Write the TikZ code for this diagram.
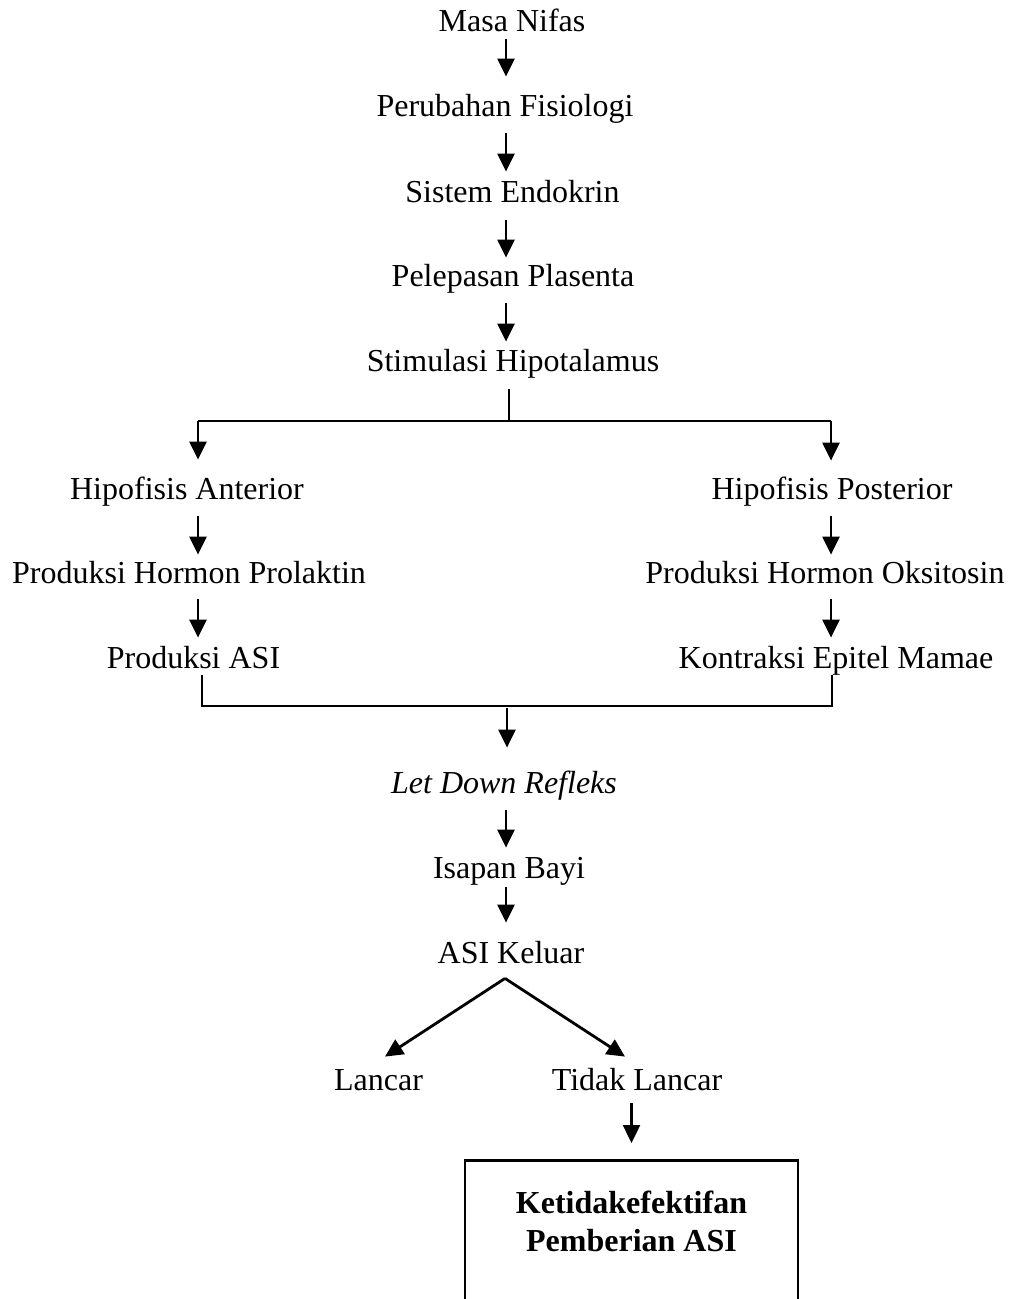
\documentclass[tikz,border=0pt]{standalone}
\usepackage{fontspec}
\setmainfont{Liberation Serif}
\usepackage{tikz}
\usetikzlibrary{positioning,%
  arrows.meta,%
  calc
}

\tikzset{
  teks/.style={anchor=base, inner xsep=0pt, inner ysep=0pt,
    text height=11pt, text depth=3.5pt, font=\fontsize{16}{19}\selectfont},
  panah/.style={-{Triangle[length=9pt,width=8.5pt]}, line width=1.2pt},
  garis/.style={line width=0.8pt},
  kotak/.style={draw, line width=1.3pt, anchor=north, minimum width=166.5pt,
    inner xsep=0pt, inner ysep=15.5pt, text height=11pt, text depth=60pt,
    font=\fontsize{16}{19}\selectfont\bfseries}
}

\begin{document}
\begin{tikzpicture}[x=0.5pt,y=-0.5pt]
            \useasboundingbox (0,0) rectangle (1013,1299);
            \clip (0,0) rectangle (1013,1299);

            % alur atas
            \node[teks] (masa) at (512,32) {Masa Nifas};
            \node[teks] (fisio) at (505,117) {Perubahan Fisiologi};
            \node[teks] (endo) at (512.5,203) {Sistem Endokrin};
            \node[teks] (plas) at (513,287) {Pelepasan Plasenta};
            \node[teks] (stim) at (513,371) {Stimulasi Hipotalamus};

            % cabang kiri dan kanan
            \node[teks] (anter) at (187,499) {Hipofisis Anterior};
            \node[teks] (prol) at (189,583) {Produksi Hormon Prolaktin};
            \node[teks] (asi) at (193.5,668) {Produksi ASI};
            \node[teks] (poster) at (832,499) {Hipofisis Posterior};
            \node[teks] (oksi) at (825,583) {Produksi Hormon Oksitosin};
            \node[teks] (epitel) at (836,668) {Kontraksi Epitel Mamae};

            % alur bawah
            \node[teks] (refleks) at (504,793) {\itshape Let Down Refleks};
            \node[teks] (isapan) at (509,878) {Isapan Bayi};
            \node[teks] (keluar) at (511,963) {ASI Keluar};
            \node[teks] (lancar) at (378.5,1090) {Lancar};
            \node[teks] (tidak) at (637,1090) {Tidak Lancar};
            \node[kotak] (kotak) at (631.5,1159)
                {\begin{tabular}[t]{@{}c@{}}Ketidakefektifan\\Pemberian ASI\end{tabular}};

            \coordinate (sumbu) at (506,0);
            \coordinate (kol1) at (198,0);
            \coordinate (kol2) at (831,0);
            \coordinate (cabang) at (509,421);
            \coordinate (ujungKiri) at (198,421);
            \coordinate (ujungKanan) at (831,421);
            \coordinate (tepiKiri) at (202,706);
            \coordinate (tepiKanan) at (832,706);
            \coordinate (gabung) at (507,706);
            \coordinate (puncak) at ([xshift=-3pt,yshift=-4pt]keluar.south);

            \foreach \a/\b/\s/\t in {masa/fisio/0/9, fisio/endo/4.5/4.5,
                endo/plas/5/3.5, plas/stim/4.5/3.5, refleks/isapan/5/4,
                isapan/keluar/1/9} {
                \draw[panah, shorten <=\s pt, shorten >=\t pt] (\a.south -| sumbu) -- (\b.north -| sumbu);
            }
            \foreach \a/\b/\s/\t in {anter/prol/5/3, prol/asi/4.5/4} {
                \draw[panah, shorten <=\s pt, shorten >=\t pt] (\a.south -| kol1) -- (\b.north -| kol1);
            }
            \foreach \a/\b/\s/\t in {poster/oksi/5/3, oksi/epitel/4.5/4} {
                \draw[panah, shorten <=\s pt, shorten >=\t pt] (\a.south -| kol2) -- (\b.north -| kol2);
            }

            % percabangan
            \draw[garis, shorten <=5.5pt] (stim.south -| cabang) -- (cabang);
            \draw[garis] (ujungKiri) -- (ujungKanan);
            \draw[panah, shorten >=8.5pt] (ujungKiri) -- (anter.north -| ujungKiri);
            \draw[panah, shorten >=8pt] (ujungKanan) -- (poster.north -| ujungKanan);

            % penggabungan
            \draw[garis] (asi.south -| tepiKiri) -- (tepiKiri) -- (tepiKanan) -- (epitel.south -| tepiKanan);
            \draw[panah, shorten <=1pt, shorten >=11.5pt] (gabung) -- (refleks.north -| gabung);

            \draw[panah, line width=1.4pt] (puncak) -- ([xshift=3.25pt,yshift=5.5pt]lancar.north);
            \draw[panah, line width=1.4pt] (puncak) -- ([xshift=-6pt,yshift=5.5pt]tidak.north);
            \draw[panah, shorten <=3pt, shorten >=8pt] (tidak.south -| kotak.north) -- (kotak.north);
\end{tikzpicture}
\end{document}
